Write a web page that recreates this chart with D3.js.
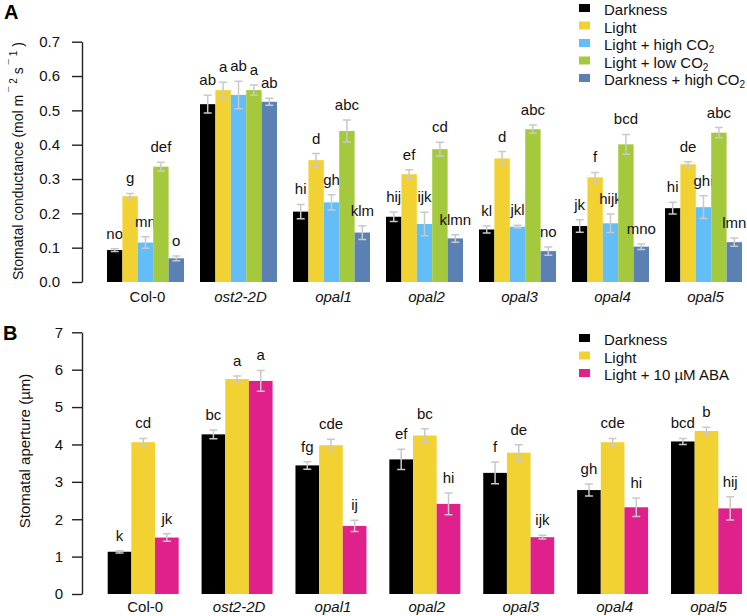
<!DOCTYPE html>
<html>
<head>
<meta charset="utf-8">
<style>
  body { margin: 0; background: #fff; }
  svg { display: block; font-family: "Liberation Sans", Arial, sans-serif; }
  .axis path, .axis line { stroke: #222; stroke-width: 1.4; }
  .axis text { font-size: 15px; fill: #111; }
  .err { stroke: #c9c9c9; stroke-width: 1.5; fill: none; }
  .sig { font-size: 15px; fill: #111; text-anchor: middle; }
  .geno { font-size: 15px; fill: #111; text-anchor: middle; }
  .legend text { font-size: 15px; fill: #111; }
</style>
</head>
<body>
<div id="chart"></div>
<script src="https://cdn.jsdelivr.net/npm/d3@7"></script>
<script>
'use strict';

var genotypes = ['Col-0', 'ost2-2D', 'opal1', 'opal2', 'opal3', 'opal4', 'opal5'];

// panel A: stomatal conductance
var seriesA = ['Darkness', 'Light', 'Light + high CO2', 'Light + low CO2', 'Darkness + high CO2'];
var darkA      = [0.093, 0.518, 0.205, 0.190, 0.153, 0.163, 0.215];
var lightA     = [0.250, 0.559, 0.355, 0.314, 0.360, 0.305, 0.343];
var lightHighA = [0.115, 0.545, 0.232, 0.169, 0.161, 0.171, 0.218];
var lightLowA  = [0.336, 0.559, 0.440, 0.387, 0.445, 0.401, 0.435];
var darkHighA  = [0.069, 0.525, 0.144, 0.127, 0.090, 0.103, 0.116];
var darkAErr      = [0.004, 0.026, 0.021, 0.014, 0.010, 0.018, 0.017];
var lightAErr     = [0.008, 0.023, 0.019, 0.013, 0.020, 0.014, 0.007];
var lightHighAErr = [0.017, 0.040, 0.022, 0.034, 0.004, 0.027, 0.033];
var lightLowAErr  = [0.013, 0.015, 0.032, 0.020, 0.012, 0.029, 0.015];
var darkHighAErr  = [0.007, 0.010, 0.020, 0.011, 0.012, 0.008, 0.012];
var darkALetters      = ['no', 'ab', 'hi', 'hij', 'kl', 'jk', 'hi'];
var lightALetters     = ['g', 'a', 'd', 'ef', 'd', 'f', 'de'];
var lightHighALetters = ['mn', 'ab', 'gh', 'ijk', 'jkl', 'hijk', 'ghi'];
var lightLowALetters  = ['def', 'a', 'abc', 'cd', 'abc', 'bcd', 'abc'];
var darkHighALetters  = ['o', 'ab', 'klm', 'klmn', 'no', 'mno', 'lmn'];
var ticksA = [0, 0.1, 0.2, 0.3, 0.4, 0.5, 0.6, 0.7];

// panel B: stomatal aperture
var seriesB = ['Darkness', 'Light', 'Light + 10 µM ABA'];
var darkB  = [1.13, 4.27, 3.44, 3.60, 3.24, 2.78, 4.08];
var lightB = [4.06, 5.75, 3.98, 4.24, 3.78, 4.06, 4.36];
var abaB   = [1.51, 5.70, 1.82, 2.41, 1.52, 2.32, 2.29];
var darkBErr  = [0.03, 0.12, 0.10, 0.27, 0.29, 0.16, 0.08];
var lightBErr = [0.10, 0.08, 0.16, 0.18, 0.21, 0.10, 0.10];
var abaBErr   = [0.10, 0.28, 0.15, 0.29, 0.05, 0.25, 0.31];
var darkBLetters  = ['k', 'bc', 'fg', 'ef', 'f', 'gh', 'bcd'];
var lightBLetters = ['cd', 'a', 'cde', 'bc', 'de', 'cde', 'b'];
var abaBLetters   = ['jk', 'a', 'ij', 'hi', 'ijk', 'hi', 'hij'];
var ticksB = [0, 1, 2, 3, 4, 5, 6, 7];

var colorsA = ['#000000', '#f2d233', '#63bdf6', '#a5c93d', '#5b80b4'];
var colorsB = ['#000000', '#f2d233', '#e0218c'];

var width = 747, height = 616;
var svg = d3.select('#chart').append('svg').attr('width', width).attr('height', height);

function panel(o) {
  var g = svg.append('g');
  var y = d3.scaleLinear().domain(o.domain).range(o.yRange);
  var x = d3.scaleBand().domain(genotypes).range(o.xRange).paddingInner(o.pad).paddingOuter(0);
  var xi = d3.scaleBand().domain(o.series).range([0, x.bandwidth()]);

  var axis = d3.axisLeft(y).tickValues(o.ticks).tickFormat(o.fmt)
    .tickSize(10).tickSizeOuter(0).tickPadding(o.tickPad);
  g.append('g').attr('class', 'axis').attr('transform', 'translate(82,0)').call(axis);

  var rows = [];
  o.values.forEach(function(vals, si) {
    vals.forEach(function(v, gi) {
      rows.push({ g: genotypes[gi], s: o.series[si], si: si, v: v, e: o.errs[si][gi], lab: o.letters[si][gi] });
    });
  });

  var bars = g.append('g').selectAll('g').data(rows).join('g')
    .attr('transform', function(d) { return 'translate(' + (x(d.g) + xi(d.s)) + ',0)'; });

  bars.append('rect')
    .attr('x', 0).attr('width', xi.bandwidth())
    .attr('y', function(d) { return y(d.v); })
    .attr('height', function(d) { return y(0) - y(d.v); })
    .attr('fill', function(d) { return o.colors[d.si]; });

  var cx = xi.bandwidth() / 2, cap = 4;
  bars.append('path').attr('class', 'err')
    .attr('d', function(d) {
      var t = y(d.v + d.e), b = y(d.v - d.e);
      return 'M' + cx + ',' + t + 'V' + b +
        'M' + (cx - cap) + ',' + t + 'H' + (cx + cap) +
        'M' + (cx - cap) + ',' + b + 'H' + (cx + cap);
    });

  bars.append('text').attr('class', 'sig')
    .attr('x', cx)
    .attr('y', function(d) { return y(d.v + d.e) - 10; })
    .text(function(d) { return d.lab; });

  g.append('g').selectAll('text').data(genotypes).join('text')
    .attr('class', 'geno')
    .attr('x', function(d) { return x(d) + x.bandwidth() / 2 + 2; })
    .attr('y', o.labelY)
    .style('font-style', function(d) { return d === 'Col-0' ? 'normal' : 'italic'; })
    .text(function(d) { return d; });

  // legend
  var lg = g.append('g').attr('class', 'legend');
  var items = lg.selectAll('g').data(o.series).join('g')
    .attr('transform', function(d, i) { return 'translate(579,' + (o.legendY + i * 17.5) + ')'; });
  items.append('rect').attr('x', 0).attr('y', -11).attr('width', 11).attr('height', 8)
    .attr('fill', function(d, i) { return o.colors[i]; });
  items.append('text').attr('x', 25).attr('y', 0).each(function(d) {
    var t = d3.select(this);
    var m = d.match(/^(.*CO)2$/);
    if (m) {
      t.append('tspan').text(m[1]);
      t.append('tspan').attr('dy', 3).style('font-size', '10px').text('2');
    } else {
      t.text(d);
    }
  });

  return { y: y };
}

panel({
  domain: [0, 0.7], yRange: [282, 41.7], xRange: [107, 742], pad: 0.172,
  series: seriesA, colors: colorsA, ticks: ticksA, fmt: d3.format('.1f'), tickPad: 12,
  values: [darkA, lightA, lightHighA, lightLowA, darkHighA],
  errs: [darkAErr, lightAErr, lightHighAErr, lightLowAErr, darkHighAErr],
  letters: [darkALetters, lightALetters, lightHighALetters, lightLowALetters, darkHighALetters],
  labelY: 302, legendY: 15
});

panel({
  domain: [0, 7], yRange: [594, 332.3], xRange: [107.7, 742], pad: 0.244,
  series: seriesB, colors: colorsB, ticks: ticksB, fmt: d3.format('d'), tickPad: 9,
  values: [darkB, lightB, abaB],
  errs: [darkBErr, lightBErr, abaBErr],
  letters: [darkBLetters, lightBLetters, abaBLetters],
  labelY: 612, legendY: 345
});

// axis titles
var ta = svg.append('text')
  .attr('transform', 'translate(23,161) rotate(-90)')
  .attr('text-anchor', 'middle')
  .style('font-size', '14px').attr('fill', '#111');
ta.append('tspan').text('Stomatal conductance (mol m');
ta.append('tspan').attr('dy', -6).style('font-size', '10px').text(' ¯ 2');
ta.append('tspan').attr('dy', 6).text(' s');
ta.append('tspan').attr('dy', -6).style('font-size', '10px').text(' ¯ 1');
ta.append('tspan').attr('dy', 6).text(' )');

svg.append('text')
  .attr('transform', 'translate(30,451) rotate(-90)')
  .attr('text-anchor', 'middle')
  .style('font-size', '15px').attr('fill', '#111')
  .text('Stomatal aperture (µm)');

// panel letters
svg.append('text').attr('x', 4).attr('y', 19).style('font-size', '20px').style('font-weight', 'bold').text('A');
svg.append('text').attr('x', 3).attr('y', 340).style('font-size', '20px').style('font-weight', 'bold').text('B');
</script>
</body>
</html>
